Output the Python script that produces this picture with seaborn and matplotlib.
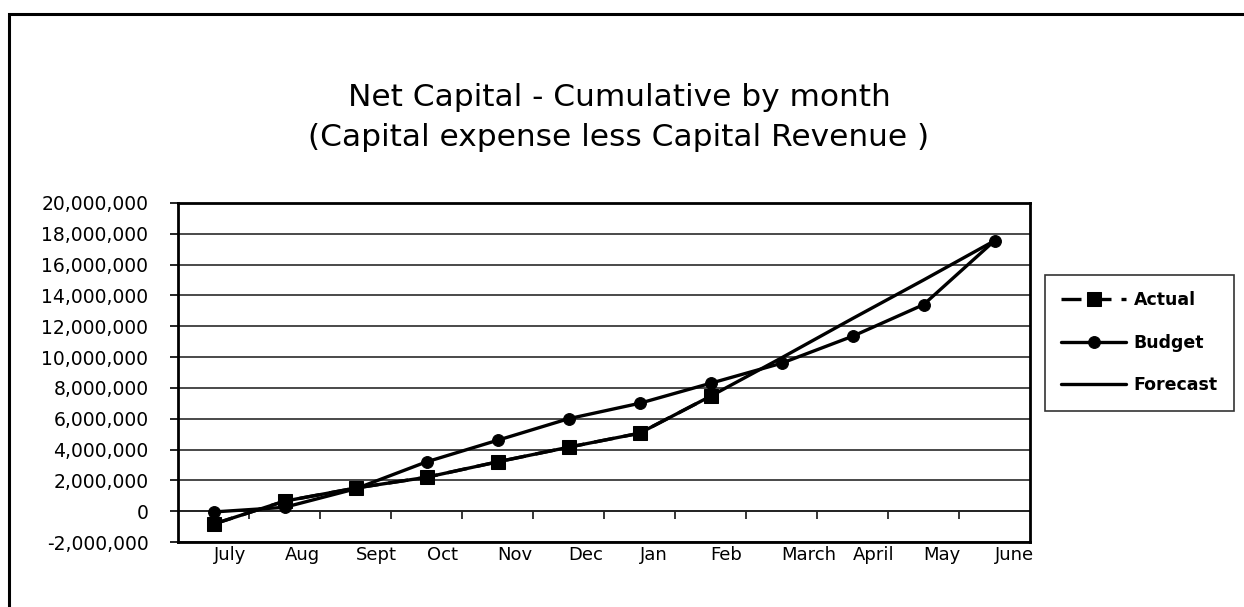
import matplotlib
matplotlib.use("Agg")
import matplotlib.pyplot as plt
import matplotlib.ticker as mticker
from matplotlib.patches import Rectangle
import pandas as pd
import seaborn as sns

months = ["July", "Aug", "Sept", "Oct", "Nov", "Dec", "Jan", "Feb", "March", "April", "May", "June"]
actual = [-840000, 650000, 1500000, 2200000, 3200000, 4150000, 5060000, 7460000]
budget = [-50000, 250000, 1450000, 3200000, 4600000, 6000000, 7000000, 8300000,
          9600000, 11350000, 13400000, 17550000]
forecast = [-840000, 650000, 1500000, 2200000, 3200000, 4150000, 5060000, 7460000,
            9950000, 12500000, 15000000, 17550000]
y_ticks = list(range(-2000000, 20000001, 2000000))

sns.set_style("white")
plt.rcParams['font.family'] = ['DejaVu Sans']
plt.rcParams['axes.unicode_minus'] = False

W, H = 1244, 607
fig = plt.figure(figsize=(W / 100, H / 100), dpi=100)
ax = fig.add_axes([178 / W, 65 / H, 852 / W, 339 / H])

df_actual = pd.DataFrame({"pos": range(len(actual)), "value": actual})
df_budget = pd.DataFrame({"pos": range(len(budget)), "value": budget})
df_forecast = pd.DataFrame({"pos": range(len(forecast)), "value": forecast})

sns.lineplot(data=df_actual, x="pos", y="value", ax=ax, color="black", lw=2.4,
             linestyle=(0, (6, 3)), marker="s", markersize=9.5, markeredgecolor="black",
             label="Actual", estimator=None, sort=False, zorder=4)
sns.lineplot(data=df_budget, x="pos", y="value", ax=ax, color="black", lw=2.4,
             marker="o", markersize=8.5, markeredgecolor="black",
             label="Budget", estimator=None, sort=False, zorder=3)
sns.lineplot(data=df_forecast, x="pos", y="value", ax=ax, color="black", lw=2.4,
             label="Forecast", estimator=None, sort=False, zorder=3)

ymin, ymax = y_ticks[0], y_ticks[-1]
ax.set_xlim(-0.5, len(months) - 0.5)
ax.set_ylim(ymin, ymax)
ax.set_xlabel("")
ax.set_ylabel("")

# y axis
ax.set_yticks(y_ticks)
ax.yaxis.set_major_formatter(mticker.StrMethodFormatter("{x:,.0f}"))
ax.tick_params(axis="y", direction="out", length=5.8, width=1.2, pad=15.5,
               labelsize=13.5, colors="black", left=True)
ax.yaxis.grid(True, color="#2a2a2a", lw=1.2)
ax.set_axisbelow(True)

# x labels at the bottom, left aligned on each category
ax.set_xticks(range(len(months)))
ax.set_xticklabels(months, ha="left")
ax.tick_params(axis="x", length=0, pad=3, labelsize=13, colors="black")

for sp in ax.spines.values():
    sp.set_visible(True)
    sp.set_color("black")
    sp.set_linewidth(2)

# category axis crossing at zero with tick marks between categories
sec = ax.secondary_xaxis((0 - ymin) / (ymax - ymin))
sec.set_xticks([i + 0.5 for i in range(len(months) - 1)])
sec.tick_params(axis="x", direction="out", length=5.5, width=1.3, labelbottom=False)
sec.spines["bottom"].set_linewidth(1.3)
sec.spines["bottom"].set_color("black")

# legend
handles, labels = ax.get_legend_handles_labels()
leg = ax.legend(handles, labels, loc="upper left",
                bbox_to_anchor=(1045 / W, 1 - 275 / H), bbox_transform=fig.transFigure,
                borderaxespad=0, frameon=True, fancybox=False, shadow=False,
                handlelength=3.7, handletextpad=0.45, labelspacing=1.4,
                borderpad=0.95, prop={"size": 12.5, "weight": "bold"})
leg.get_frame().set_edgecolor("black")
leg.get_frame().set_linewidth(1.2)
for t in leg.get_texts():
    t.set_color("black")

# title
fig.text(619 / W, 1 - 98 / H, "Net Capital - Cumulative by month",
         ha="center", va="center", fontsize=22.5, color="black")
fig.text(619 / W, 1 - 137 / H, "(Capital expense less Capital Revenue )",
         ha="center", va="center", fontsize=22.5, color="black")

# outer chart border
fig.patches.append(Rectangle((9 / W, -0.05), 1.2, 1 - 14 / H + 0.05,
                             transform=fig.transFigure, fill=False,
                             edgecolor="black", lw=2.2))

fig.savefig("out.png", dpi=100)
